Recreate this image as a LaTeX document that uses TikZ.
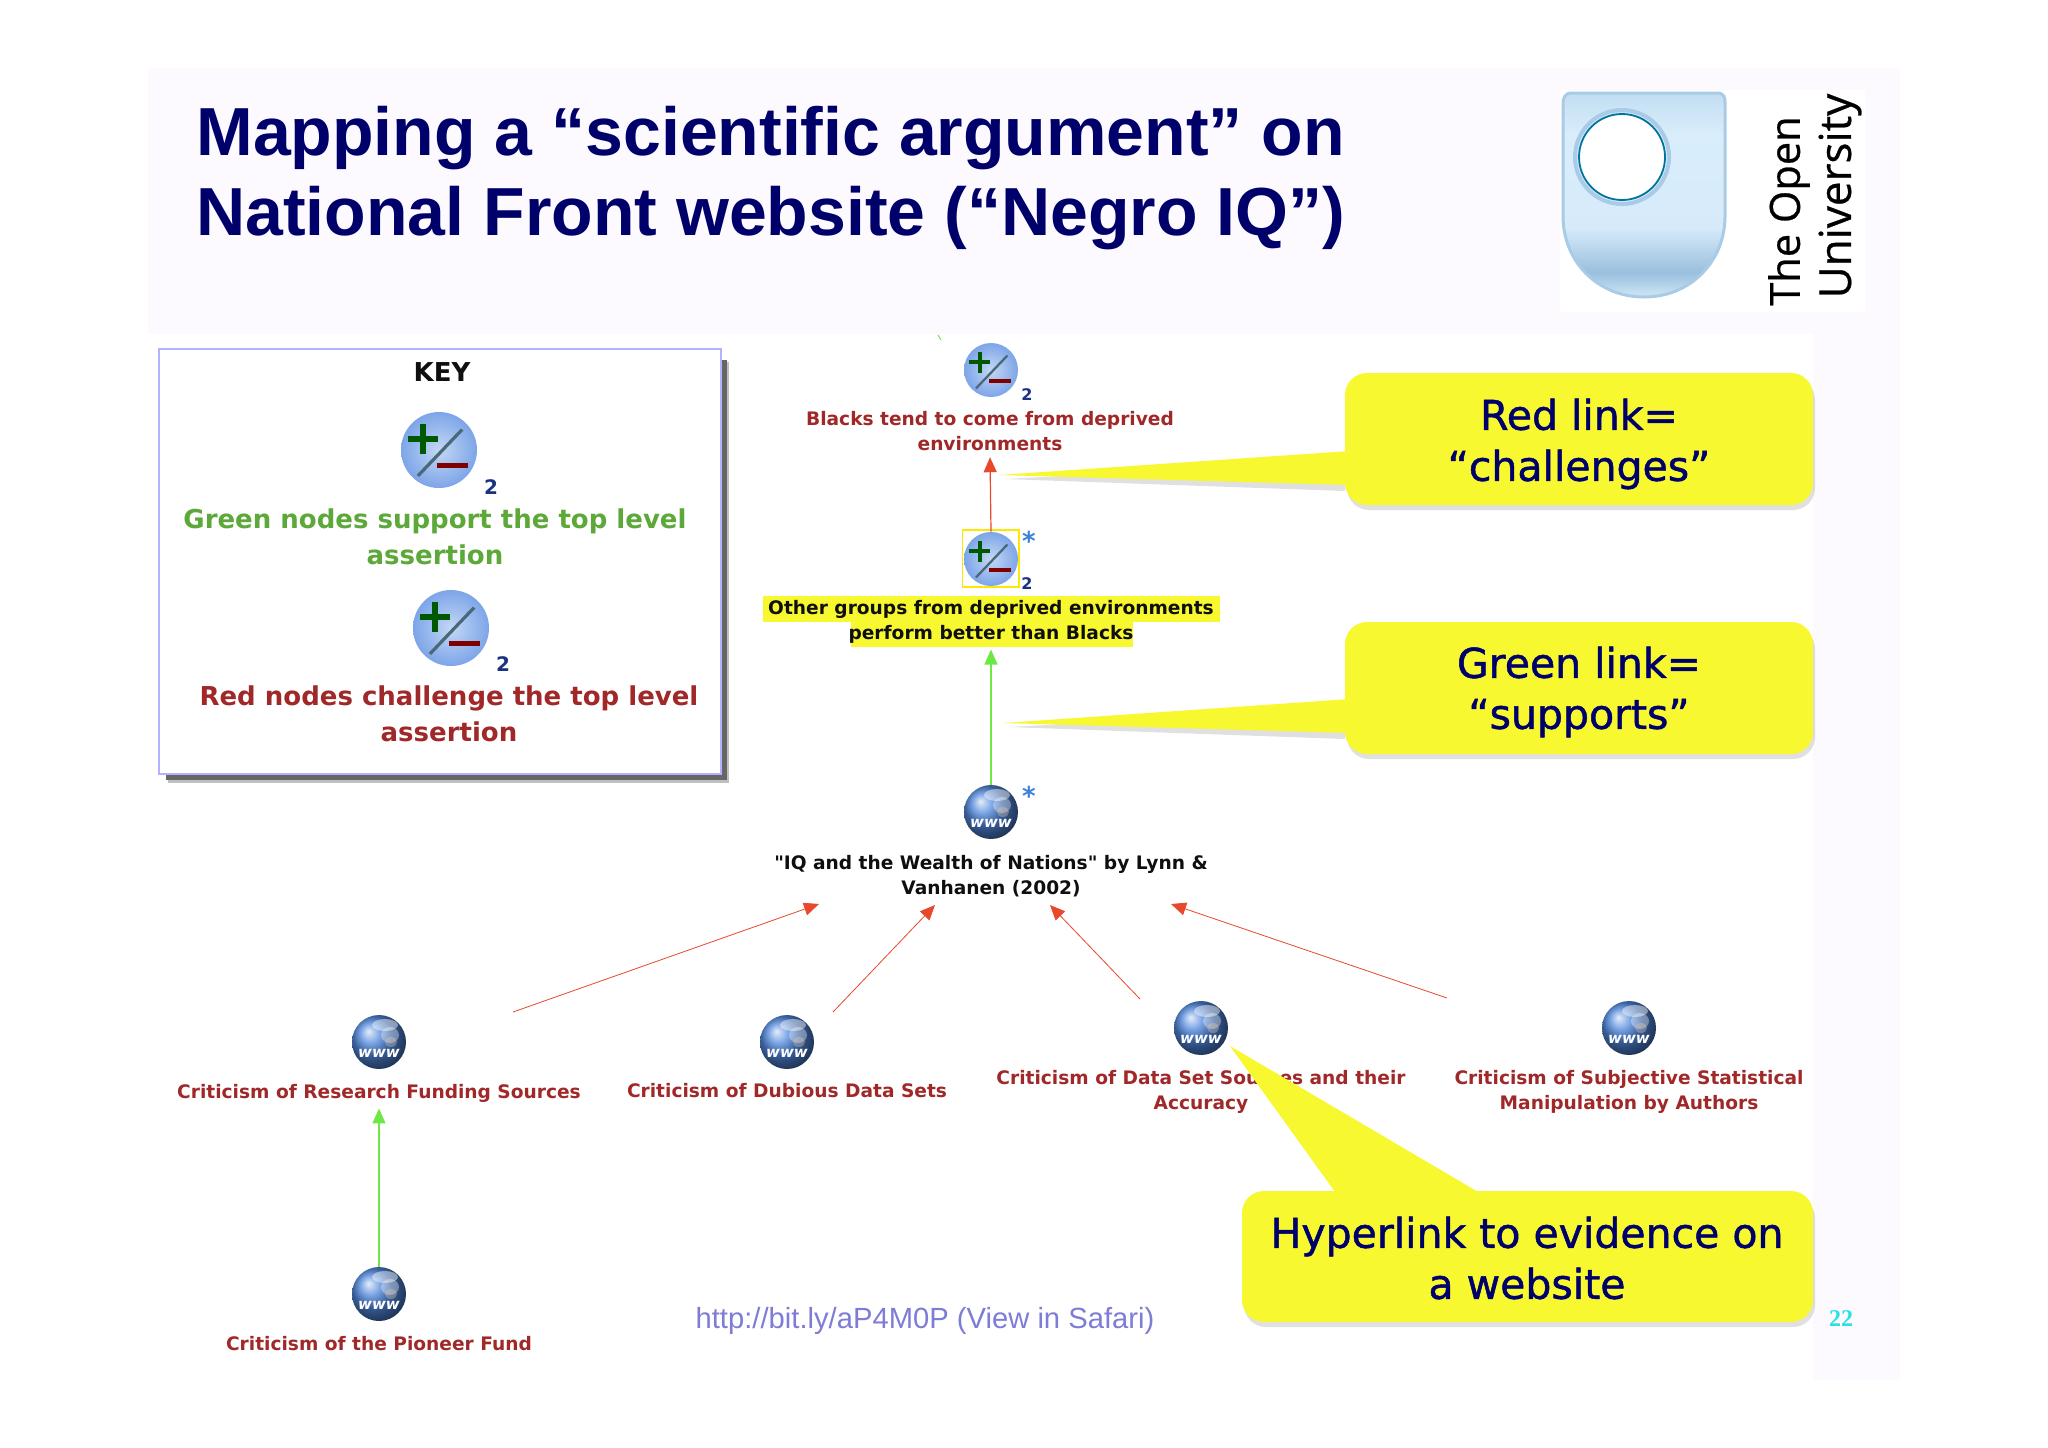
\documentclass[tikz,border=0pt]{standalone}
\usepackage{xcolor}
\usepackage{fontspec}
\usepackage{tikz}
\usetikzlibrary{arrows.meta}
\setmainfont{Liberation Sans}
\newfontfamily\labelfont{DejaVu Sans}
\newfontfamily\callfont{DejaVu Sans}[FakeBold=1.2]
\newfontfamily\logofont{Open Sans}[FakeBold=0.6]
\newfontfamily\pagefont{Liberation Serif}
\definecolor{titlenavy}{RGB}{0,0,107}
\definecolor{nodered}{RGB}{160,40,40}
\definecolor{nodegreen}{RGB}{92,168,56}
\definecolor{nodeblack}{RGB}{15,15,15}
\definecolor{linkred}{RGB}{232,72,44}
\definecolor{linkgreen}{RGB}{110,232,70}
\definecolor{calloutyellow}{RGB}{248,248,48}
\definecolor{slidetint}{RGB}{252,250,254}
\definecolor{starblue}{RGB}{60,130,215}
\definecolor{countblue}{RGB}{25,50,130}
\definecolor{discinner}{RGB}{196,216,245}
\definecolor{discouter}{RGB}{125,165,232}
\definecolor{globeblue}{RGB}{80,135,220}
\definecolor{shieldedge}{RGB}{170,203,230}
\definecolor{urlblue}{RGB}{125,125,215}
\definecolor{pagecyan}{RGB}{40,225,230}
\pgfdeclareverticalshading{shieldshade}{100bp}{
  rgb(0bp)=(0.78,0.88,0.95);
  rgb(26bp)=(0.78,0.88,0.95);
  rgb(31bp)=(0.60,0.75,0.87);
  rgb(42bp)=(0.84,0.92,0.98);
  rgb(65bp)=(0.85,0.93,0.985);
  rgb(75bp)=(0.76,0.87,0.95);
  rgb(100bp)=(0.76,0.87,0.95)
}
\tikzset{
  label text/.style={align=center,inner sep=3pt,font=\labelfont\bfseries\fontsize{9.3}{12.6}\selectfont},
  key text/.style={align=center,inner sep=0.75pt,font=\labelfont\bfseries\fontsize{13}{18}\selectfont},
  call text/.style={align=center,inner sep=0.75pt,text=titlenavy,font=\callfont\fontsize{20.5}{25.5}\selectfont},
  count/.style={inner sep=0pt,text=countblue,font=\labelfont\bfseries\fontsize{8}{8}\selectfont},
  star/.style={inner sep=0pt,text=starblue,font=\labelfont\bfseries\fontsize{13}{13}\selectfont},
  red link/.style={draw=linkred,line width=0.6pt,-{Triangle[length=7.5pt,width=6.5pt]}},
  green link/.style={draw=linkgreen,line width=0.6pt,-{Triangle[length=7.5pt,width=6.5pt]}},
  pmdisc/.style={circle,inner sep=0pt,minimum size=27pt,inner color=discinner,outer color=discouter},
  globe/.style={circle,inner sep=0pt,minimum size=27pt,ball color=globeblue},
  pmglyph/.pic={
    \fill [green!35!black] (-22.1,9.6) rectangle (-0.7,5.6);
    \fill [green!35!black] (-13.4,18.3) rectangle (-9.4,-3.1);
    \fill [red!50!black] (-1.7,-8.9) rectangle (20.3,-12.5);
    \fill [cyan!40!black] (15.4,15.1) -- (17.4,13.9) -- (-14,-19) -- (-16,-17.8) -- cycle;
  },
  globeglyph/.pic={
    \fill [white,opacity=0.45] (6,17) ellipse (13 and 6);
    \fill [white,opacity=0.35] (11,7) ellipse (9 and 8);
    \fill [brown!40!white,opacity=0.35] (12,0) ellipse (6 and 5);
    \node [inner sep=0pt,text=white,font=\labelfont\bfseries\itshape\fontsize{7.5}{7.5}\selectfont] (-www) at (0,-11) {www};
  },
}
\begin{document}
\begin{tikzpicture}[x=0.5pt,y=0.5pt,yscale=-1,xscale=1]
\useasboundingbox (0,0) rectangle (2048,1447);

%Shape: Slide background
\fill [slidetint] (148,68) rectangle (1900,1380);
%Shape: Diagram background
\fill [white] (148,334) rectangle (1813,1380);
%Shape: Logo background
\fill [white] (1560,90) rectangle (1865,312);

%Shape: Shield
\draw [shading=shieldshade,draw=shieldedge,line width=1.5pt]
  (1572,93) -- (1716,93) .. controls (1725,93) and (1725,97) .. (1725,105) -- (1725,216) .. controls (1725,262) and (1690,297) .. (1644,297) .. controls (1598,297) and (1563,262) .. (1563,216) -- (1563,105) .. controls (1563,97) and (1565,93) .. (1572,93) -- cycle ;
%Shape: Shield hole
\draw [draw=shieldedge,line width=2pt] (1622,157) circle (47) ;
\draw [fill=white,draw=black!30!blue!35!cyan!70!black,line width=0.9pt] (1622,157) circle (43) ;

%Shape: Key box shadow
\fill [black!25] (168,362) rectangle (729,783);
\fill [black!60] (166,360) rectangle (727,780);
%Shape: Key box
\draw [fill=white,draw=blue!30!white,line width=0.8pt] (159,349) rectangle (721,774);

%Shape: Small tick
\draw [linkgreen,line width=0.5pt] (938,335) -- (941,340);

%Shape: Selection frame
\draw [yellow!90!orange,line width=0.6pt] (962.5,530) rectangle (1019,587);
%Shape: Highlight
\fill [calloutyellow] (763,596) rectangle (1220,622);
\fill [calloutyellow] (851,622) rectangle (1133,647);

% Icons
\node [pmdisc,minimum size=38pt] (iconKeyGreen) at (439,450) {};
\pic [scale=1.41] at (iconKeyGreen) {pmglyph};
\node [pmdisc,minimum size=38pt] (iconKeyRed) at (451,628) {};
\pic [scale=1.41] at (iconKeyRed) {pmglyph};
\node [pmdisc] (iconDeprived) at (991,370) {};
\pic at (iconDeprived) {pmglyph};
\node [pmdisc] (iconGroups) at (991,559) {};
\pic at (iconGroups) {pmglyph};
\node [globe] (globeWealth) at (991,812) {};
\pic (wealth) at (globeWealth) {globeglyph};
\node [globe] (globeFunding) at (379,1042) {};
\pic (funding) at (globeFunding) {globeglyph};
\node [globe] (globeDubious) at (787,1042) {};
\pic (dubious) at (globeDubious) {globeglyph};
\node [globe] (globeSources) at (1201,1028) {};
\pic (sources) at (globeSources) {globeglyph};
\node [globe] (globeSubjective) at (1629,1028) {};
\pic (subjective) at (globeSubjective) {globeglyph};
\node [globe] (globePioneer) at (379,1294) {};
\pic (pioneer) at (globePioneer) {globeglyph};

% Title
\draw (196,155) node [anchor=base west,inner sep=0pt,text=titlenavy,font=\bfseries\fontsize{34}{34}\selectfont] (titleTop) {Mapping a “scientific argument” on};
\draw (196,235) node [anchor=base west,inner sep=0pt,text=titlenavy,font=\bfseries\fontsize{34}{34}\selectfont] (titleBottom) {National Front website (“Negro IQ”)};

% Logo Text
\draw (1789,211) node [rotate=90,inner sep=0pt,font=\logofont\fontsize{20.8}{22}\selectfont] (logoThe) {The Open};
\draw (1840,196) node [rotate=90,inner sep=0pt,font=\logofont\fontsize{22}{22}\selectfont] (logoUni) {University};

% Key Text
\draw (442,372) node [key text,text=nodeblack] (keyTitle) {KEY};
\draw (491,487) node [count,font=\labelfont\bfseries\fontsize{10}{10}\selectfont] (keyCountGreen) {2};
\draw (435,537) node [key text,text=nodegreen] (keyGreen) {Green nodes support the top level\\assertion};
\draw (503,664) node [count,font=\labelfont\bfseries\fontsize{10}{10}\selectfont] (keyCountRed) {2};
\draw (449,714) node [key text,text=nodered] (keyRed) {Red nodes challenge the top level\\assertion};

% Text Node
\draw (1027,395) node [count] (countDeprived) {2};
\draw (990,431) node [label text,text=nodered] (textDeprived) {Blacks tend to come from deprived\\environments};
\draw (1029,541) node [star] (starGroups) {*};
\draw (1027,584) node [count] (countGroups) {2};
\draw (991,621.5) node [label text,text=nodeblack] (textGroups) {Other groups from deprived environments\\perform better than Blacks};
\draw (1029,796) node [star] (starWealth) {*};
\draw (991,876) node [label text,text=nodeblack] (textWealth) {"IQ and the Wealth of Nations" by Lynn \&\\Vanhanen (2002)};
\draw (379,1093) node [label text,text=nodered] (textFunding) {Criticism of Research Funding Sources};
\draw (787,1091) node [label text,text=nodered] (textDubious) {Criticism of Dubious Data Sets};
\draw (1201,1092) node [label text,text=nodered] (textSources) {Criticism of Data Set Sources and their\\Accuracy};
\draw (1629,1092) node [label text,text=nodered] (textSubjective) {Criticism of Subjective Statistical\\Manipulation by Authors};
\draw (379,1344) node [label text,text=nodered] (textPioneer) {Criticism of the Pioneer Fund};
\draw (925,1321) node [inner sep=0pt,text=urlblue,font=\fontsize{14.6}{15}\selectfont] (textUrl) {http://bit.ly/aP4M0P (View in Safari)};
\draw (1841,1319) node [inner sep=0pt,text=pagecyan,font=\pagefont\bfseries\fontsize{12}{12}\selectfont] (textPage) {22};

% Free ends of the links
\coordinate (linkFundingStart) at (513,1012);
\coordinate (linkFundingEnd) at (819,904);
\coordinate (linkDubiousStart) at (833,1012);
\coordinate (linkDubiousEnd) at (935,905);
\coordinate (linkSourcesStart) at (1140,999);
\coordinate (linkSourcesEnd) at (1050,905);
\coordinate (linkSubjectiveStart) at (1447,998);
\coordinate (linkSubjectiveEnd) at (1171,904);

% Links
\draw [red link] (iconGroups.north) -- (textDeprived.south);
\draw [green link] (globeWealth.north) -- (textGroups.south);
\draw [green link] (globePioneer.north) -- (textFunding.south);
\draw [red link,line width=0.4pt] (linkFundingStart) -- (linkFundingEnd);
\draw [red link,line width=0.4pt] (linkDubiousStart) -- (linkDubiousEnd);
\draw [red link,line width=0.4pt] (linkSourcesStart) -- (linkSourcesEnd);
\draw [red link,line width=0.4pt] (linkSubjectiveStart) -- (linkSubjectiveEnd);

%Shape: Callout shadows
\fill [black,opacity=0.12,rounded corners=11pt] (1347,378) rectangle (1815,510);
\fill [black,opacity=0.12,rounded corners=11pt] (1347,627) rectangle (1815,759);
\fill [black,opacity=0.12,rounded corners=11pt] (1244,1196) rectangle (1815,1327);
\fill [black,opacity=0.12] (1005,479) -- (1345,461) -- (1345,491) -- cycle;
\fill [black,opacity=0.12] (1009,727) -- (1345,709) -- (1345,739) -- cycle;

%Shape: Callout red
\fill [calloutyellow] (999,475) -- (1350,451) -- (1350,485) -- cycle;
\fill [calloutyellow,rounded corners=11pt] (1345,373) rectangle (1813,505);
%Shape: Callout green
\fill [calloutyellow] (1003,723) -- (1350,699) -- (1350,733) -- cycle;
\fill [calloutyellow,rounded corners=11pt] (1345,622) rectangle (1813,754);
%Shape: Callout hyperlink
\fill [calloutyellow] (1230,1046) -- (1485,1196) -- (1338,1196) -- cycle;
\fill [calloutyellow,rounded corners=11pt] (1242,1191) rectangle (1813,1322);

% Text Node
\draw (1579,444) node [call text] (callChallenges) {Red link=\\“challenges”};
\draw (1579,692) node [call text] (callSupports) {Green link=\\“supports”};
\draw (1527,1258) node [call text] (callHyperlink) {Hyperlink to evidence on\\a website};

\end{tikzpicture}
\end{document}
